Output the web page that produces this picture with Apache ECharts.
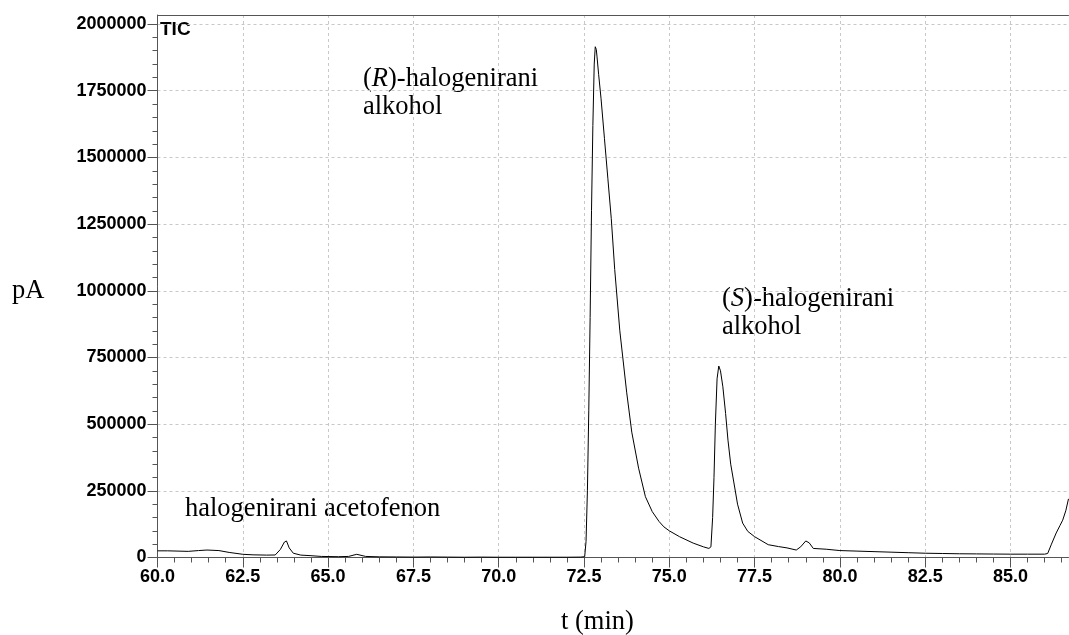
<!DOCTYPE html>
<html><head><meta charset="utf-8">
<script src="https://cdn.jsdelivr.net/npm/echarts@6/dist/echarts.min.js"></script>
<style>html,body{margin:0;padding:0;background:#fff}#c{width:1069px;height:635px}</style>
</head><body><div id="c"></div><script>
// retention time (min)
const times = [60.0,60.3,60.6,60.9,61.2,61.45,61.8,62.1,62.5,62.8,63.2,63.45,63.6,63.72,63.78,63.86,63.98,64.2,64.47,64.8,65.3,65.6,65.84,66.1,66.5,67.0,67.5,68.0,68.5,69.0,69.5,70.0,70.5,71.0,71.5,72.0,72.4,72.52,72.56,72.6,72.64,72.68,72.72,72.76,72.80,72.83,72.86,72.88,72.90,72.93,73.0,73.1,73.2,73.3,73.4,73.55,73.75,73.9,74.1,74.3,74.5,74.7,74.84,75.0,75.3,75.7,76.0,76.16,76.22,76.27,76.31,76.35,76.40,76.45,76.50,76.57,76.65,76.72,76.8,76.93,77.0,77.15,77.3,77.5,77.9,78.2,78.45,78.72,78.85,79.0,79.1,79.22,79.6,80.0,80.5,81.0,81.5,82.0,82.5,83.0,83.5,84.0,84.5,85.0,85.5,86.0,86.09,86.2,86.34,86.45,86.53,86.62,86.7];
// TIC signal (pA)
const signal = [25000,25000,24000,23000,26000,28000,26000,19000,12000,10000,9000,9400,30000,58000,62000,36000,16000,9000,7000,4000,3000,4000,12000,4000,2500,2000,1500,2000,1500,1000,1500,1000,1000,1000,1000,1000,1500,3000,60000,250000,550000,900000,1300000,1620000,1850000,1915000,1905000,1880000,1885000,1810000,1720000,1570000,1420000,1270000,1080000,850000,620000,470000,335000,228000,172000,135000,115000,100000,78000,54000,40000,34000,40000,150000,300000,500000,670000,718000,700000,640000,540000,440000,350000,253000,200000,129000,98000,78000,48000,41000,36000,28000,40000,62000,55000,34000,31000,26000,24000,22000,20000,18000,16000,15000,14000,13500,13000,12500,12500,12500,15000,50000,92000,120000,140000,175000,220000];
const xTickLabels = [60,62.5,65,67.5,70,72.5,75,77.5,80,82.5,85];
const yTickLabels = [0,250000,500000,750000,1000000,1250000,1500000,1750000,2000000];
const xMinor = []; for (let v = 60; v <= 86.5 + 1e-9; v += 0.5) xMinor.push(+v.toFixed(1));
const yMinor = []; for (let v = 0; v <= 2000000; v += 50000) yMinor.push(v);

const X_MIN = 60, X_MAX = 86.7, Y_MIN = 0, Y_MAX = 2034000;
const axisGray = '#555';
const gridGray = '#c8c8c8';
const serif = '"Liberation Serif", "Times New Roman", serif';
const sans = '"Liberation Sans", Arial, sans-serif';

const chart = echarts.init(document.getElementById('c'));
chart.setOption({
  animation: false,
  textStyle: { fontFamily: sans },
  grid: { left: 157.5, right: 0.5, top: 15, bottom: 77.5, outerBoundsMode: 'none', containLabel: false },
  xAxis: [
    { type: 'value', min: X_MIN, max: X_MAX, interval: 2.5, position: 'bottom',
      axisLine: { show: true, onZero: false, lineStyle: { color: axisGray, width: 1 } },
      axisTick: { show: true, length: 10, customValues: xTickLabels, lineStyle: { color: axisGray } },
      axisLabel: { customValues: xTickLabels, formatter: v => Number(v).toFixed(1), fontWeight: 'bold', fontSize: 18, color: '#000', margin: 11, fontFamily: sans },
      splitLine: { show: true, lineStyle: { type: [3, 3], color: gridGray, width: 1 } } },
    { type: 'value', min: X_MIN, max: X_MAX, position: 'bottom',
      axisLine: { show: false, onZero: false },
      axisTick: { show: true, length: 5, customValues: xMinor, lineStyle: { color: axisGray } },
      axisLabel: { show: false }, splitLine: { show: false } },
    { type: 'value', min: X_MIN, max: X_MAX, position: 'top',
      axisLine: { show: true, onZero: false, lineStyle: { color: axisGray, width: 1 } },
      axisTick: { show: false }, axisLabel: { show: false }, splitLine: { show: false } }
  ],
  yAxis: [
    { type: 'value', min: Y_MIN, max: Y_MAX, interval: 250000, position: 'left',
      axisLine: { show: true, onZero: false, lineStyle: { color: axisGray, width: 1 } },
      axisTick: { show: true, length: 10, customValues: yTickLabels, lineStyle: { color: axisGray } },
      axisLabel: { customValues: yTickLabels, formatter: v => String(v), fontWeight: 'bold', fontSize: 18, color: '#000', margin: 11, fontFamily: sans },
      splitLine: { show: true, lineStyle: { type: [3, 3], color: gridGray, width: 1 } } },
    { type: 'value', min: Y_MIN, max: Y_MAX, position: 'left',
      axisLine: { show: false, onZero: false },
      axisTick: { show: true, length: 5, customValues: yMinor, lineStyle: { color: axisGray } },
      axisLabel: { show: false }, splitLine: { show: false } }
  ],
  series: [{
    type: 'line', xAxisIndex: 0, yAxisIndex: 0,
    data: times.map((t, i) => [t, signal[i]]),
    showSymbol: false, symbol: 'none',
    lineStyle: { color: '#000', width: 1 },
    silent: true
  }],
  graphic: [
    { type: 'text', x: 160, y: 30, style: { text: 'TIC', fontFamily: sans, fontWeight: 'bold', fontSize: 19, fill: '#000', textVerticalAlign: 'middle' } },
    { type: 'text', x: 363, y: 79, style: { text: '({i|R})-halogenirani', fontFamily: serif, fontSize: 26.5, fill: '#000', textVerticalAlign: 'middle',
        rich: { i: { fontFamily: serif, fontSize: 26.5, fontStyle: 'italic', fill: '#000' } } } },
    { type: 'text', x: 363, y: 107, style: { text: 'alkohol', fontFamily: serif, fontSize: 26.5, fill: '#000', textVerticalAlign: 'middle' } },
    { type: 'text', x: 722, y: 299, style: { text: '({i|S})-halogenirani', fontFamily: serif, fontSize: 26.5, fill: '#000', textVerticalAlign: 'middle',
        rich: { i: { fontFamily: serif, fontSize: 26.5, fontStyle: 'italic', fill: '#000' } } } },
    { type: 'text', x: 722, y: 327, style: { text: 'alkohol', fontFamily: serif, fontSize: 26.5, fill: '#000', textVerticalAlign: 'middle' } },
    { type: 'text', x: 185, y: 509, style: { text: 'halogenirani acetofenon', fontFamily: serif, fontSize: 26.5, fill: '#000', textVerticalAlign: 'middle' } },
    { type: 'text', x: 12, y: 291, style: { text: 'pA', fontFamily: serif, fontSize: 26.5, fill: '#000', textVerticalAlign: 'middle' } },
    { type: 'text', x: 561, y: 622, style: { text: 't (min)', fontFamily: serif, fontSize: 26.5, fill: '#000', textVerticalAlign: 'middle' } }
  ]
});
</script></body></html>
